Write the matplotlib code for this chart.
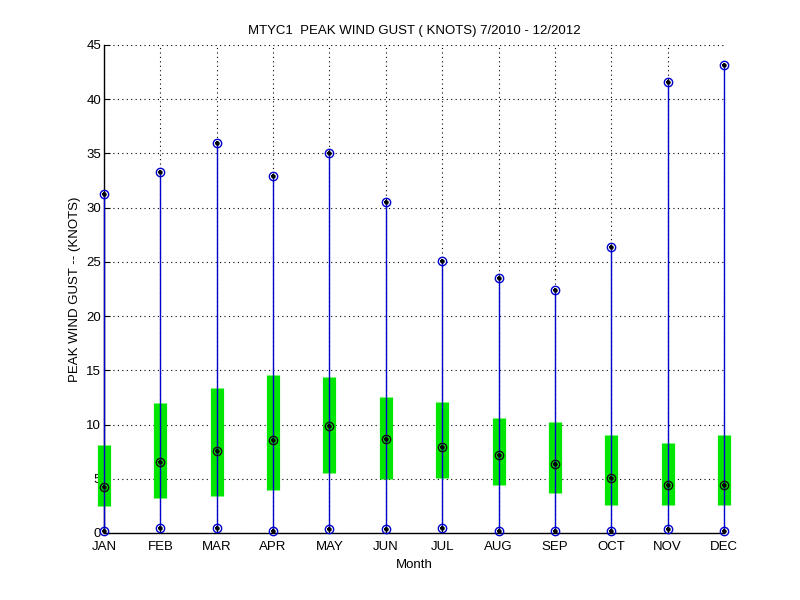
import matplotlib
matplotlib.use("Agg")
import matplotlib.pyplot as plt
import numpy as np

plt.rcParams['font.family'] = ['Liberation Sans', 'DejaVu Sans']

months = ['JAN', 'FEB', 'MAR', 'APR', 'MAY', 'JUN', 'JUL', 'AUG', 'SEP', 'OCT', 'NOV', 'DEC']
gust_max = [31.3, 33.3, 36.0, 32.9, 35.0, 30.5, 25.1, 23.5, 22.4, 26.4, 41.6, 43.2]
gust_min = [0.2, 0.5, 0.5, 0.2, 0.35, 0.35, 0.5, 0.2, 0.2, 0.2, 0.35, 0.2]
q_upper = [8.1, 12.0, 13.4, 14.6, 14.4, 12.55, 12.1, 10.6, 10.25, 9.05, 8.3, 9.05]
q_lower = [2.45, 3.25, 3.4, 4.0, 5.55, 4.95, 5.1, 4.45, 3.65, 2.6, 2.6, 2.6]
gust_median = [4.2, 6.5, 7.55, 8.6, 9.9, 8.7, 7.9, 7.15, 6.35, 5.05, 4.4, 4.4]

x = np.arange(1, len(months) + 1)

fig = plt.figure(figsize=(8, 6), dpi=100)
ax = fig.add_axes([0.13, 0.1117, 0.775, 0.8133])

blue = '#0000cc'
green = '#00e600'

ax.vlines(x, gust_min, gust_max, colors=blue, linewidth=1.0, zorder=2, clip_on=False)
ax.vlines(x, q_lower, q_upper, colors=green, linewidth=9.5, zorder=3, clip_on=False)
ax.vlines(x, q_lower, q_upper, colors=blue, linewidth=1.0, zorder=4, clip_on=False)

for vals, ec in ((gust_max, blue), (gust_min, blue), (gust_median, '#101010')):
    ax.plot(x, vals, linestyle='none', marker='o', markersize=6, markerfacecolor='none',
            markeredgecolor=ec, markeredgewidth=1.0, zorder=5, clip_on=False)
    ax.plot(x, vals, linestyle='none', marker='+', markersize=3.5, markeredgecolor='black',
            markeredgewidth=1.4, zorder=6, clip_on=False)
    ax.plot(x, vals, linestyle='none', marker='o', markersize=2.2, color='black',
            zorder=6, clip_on=False)

ax.set_xlim(1, 12)
ax.set_ylim(0, 45)
ax.set_xticks(x)
ax.set_xticklabels(months)
ax.set_yticks(np.arange(0, 46, 5))
ax.grid(True, linestyle=(0, (1, 3)), color='black', linewidth=0.8)
ax.set_axisbelow(True)

for s in ('top', 'right'):
    ax.spines[s].set_visible(False)
for s in ('left', 'bottom'):
    ax.spines[s].set_linewidth(1.0)
    ax.spines[s].set_zorder(1)
ax.tick_params(direction='in', length=4, labelsize=9.5, pad=2)
ax.tick_params(axis='x', pad=6)

ax.set_title('MTYC1  PEAK WIND GUST ( KNOTS) 7/2010 - 12/2012', fontsize=9.5, pad=8)
ax.set_xlabel('Month', fontsize=9.5, labelpad=4)
ax.set_ylabel('PEAK WIND GUST -- (KNOTS)', fontsize=9.5, labelpad=4)

fig.savefig('out.png', dpi=100)
